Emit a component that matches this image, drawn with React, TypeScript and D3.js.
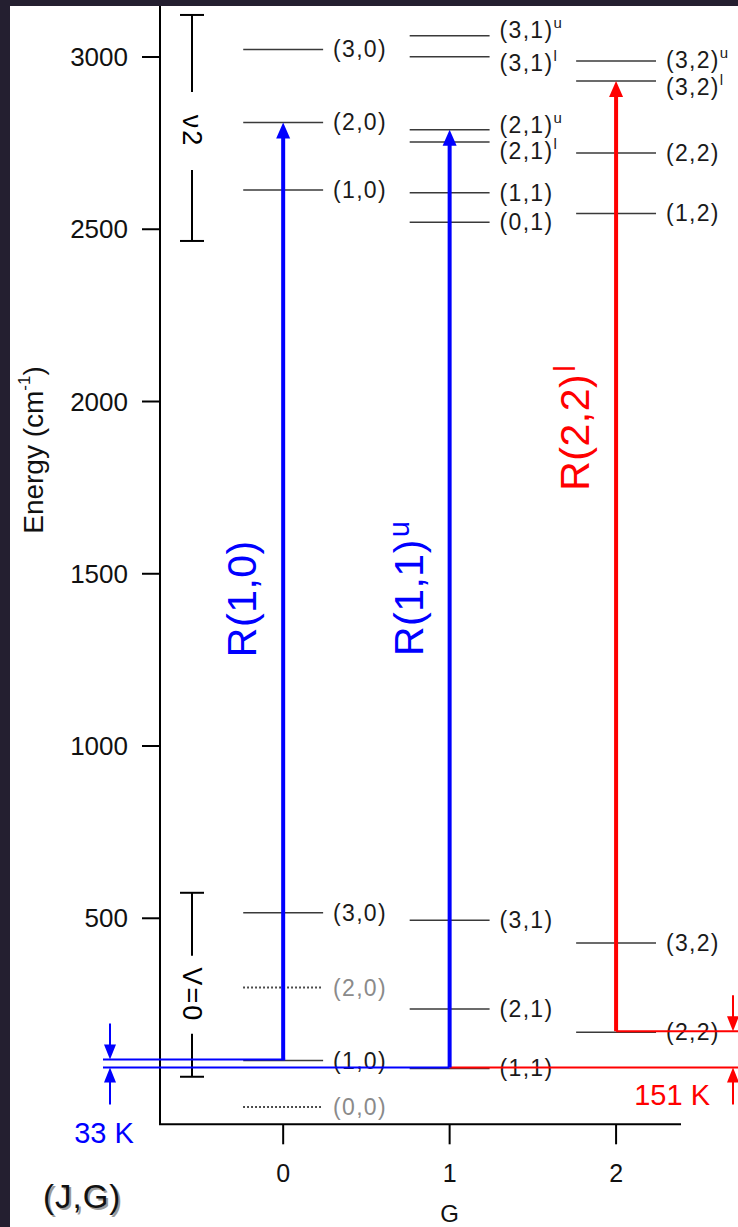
import React from "react";
import * as d3 from "d3";

const W = 738;
const H = 1227;

const E_TICKS = [500, 1000, 1500, 2000, 2500, 3000];
const G_TICKS = [0, 1, 2];

// upper (v2 = 1) levels: J, G, energy (cm-1), l-doubling component
const upperLevels = [
  { j: 3, g: 0, e: 3022, part: "" },
  { j: 2, g: 0, e: 2810, part: "" },
  { j: 1, g: 0, e: 2614, part: "" },
  { j: 3, g: 1, e: 3062, part: "u" },
  { j: 3, g: 1, e: 3001, part: "l" },
  { j: 2, g: 1, e: 2789, part: "u" },
  { j: 2, g: 1, e: 2753, part: "l" },
  { j: 1, g: 1, e: 2606, part: "" },
  { j: 0, g: 1, e: 2520, part: "" },
  { j: 3, g: 2, e: 2988, part: "u" },
  { j: 3, g: 2, e: 2930, part: "l" },
  { j: 2, g: 2, e: 2721, part: "" },
  { j: 1, g: 2, e: 2546, part: "" },
];

// ground (v = 0) levels
const groundLevels = [
  { j: 3, g: 0, e: 516, allowed: true },
  { j: 2, g: 0, e: 299, allowed: false },
  { j: 1, g: 0, e: 87, allowed: true },
  { j: 0, g: 0, e: -48, allowed: false },
  { j: 3, g: 1, e: 494, allowed: true },
  { j: 2, g: 1, e: 237, allowed: true },
  { j: 1, g: 1, e: 64, allowed: true },
  { j: 3, g: 2, e: 428, allowed: true },
  { j: 2, g: 2, e: 169, allowed: true },
];

const transitions = [
  { name: "R(1,0)", sup: "", g: 0, lower: 87, upper: 2810 },
  { name: "R(1,1)", sup: "u", g: 1, lower: 64, upper: 2789 },
  { name: "R(2,2)", sup: "l", g: 2, lower: 169, upper: 2930 },
];
const transitionLabelStartE = [1258, 1261, 1741];
const transitionColors = ["#0000ff", "#0000ff", "#ff0000"];

const brackets = [
  { label: "ν2", top: 3122, bottom: 2466, mid: 2785, gap: 78 },
  { label: "V=0", top: 574, bottom: 40, mid: 278, gap: 78 },
];

const tempLabels = [
  { text: "33 K", upperE: 87, lowerE: 64 },
  { text: "151 K", upperE: 169, lowerE: 64 },
];

const labelNudge: Record<string, number> = {
  "3,1u": -6,
  "3,1l": 6,
  "2,1u": -5,
  "2,1l": 9,
  "3,2u": -1,
  "3,2l": 6,
};

const FONT = "'Liberation Sans', Arial, Helvetica, sans-serif";

export default function App() {
  const x = d3.scaleLinear().domain([-0.74, 2.39]).range([160, 681]);
  const y = d3.scaleLinear().domain([-98, 3148]).range([1124.3, 6]);
  const half = 0.24;
  const lineColor = "#3a3a3a";

  const levelLabel = (
    key: string,
    j: number,
    g: number,
    e: number,
    part: string,
    color: string,
    nudge: number
  ) => {
    const lx = x(g + half) + 10;
    const ly = y(e) + nudge + 8;
    return (
      <text
        key={key}
        x={lx}
        y={ly}
        fontSize={23}
        letterSpacing={1.3}
        fill={color}
        fontFamily={FONT}
      >
        {`(${j},${g})`}
        {part ? (
          <tspan fontSize={15} dy={-10} dx={0}>
            {part}
          </tspan>
        ) : null}
      </text>
    );
  };

  const arrowHead = (xc: number, tipY: number, dir: number, hw: number, hl: number) =>
    `M${xc},${tipY} L${xc - hw},${tipY + dir * hl} L${xc + hw},${tipY + dir * hl} Z`;

  const blueLeft = 103;

  return (
    <svg
      width={W}
      height={H}
      style={{ position: "absolute", left: 0, top: 0, display: "block" }}
      fontFamily={FONT}
    >
      <rect x={0} y={0} width={W} height={H} fill="#241f30" />
      <rect x={10} y={6} width={W - 10} height={H - 6} fill="#ffffff" />

      {/* axes */}
      <line x1={x(-0.74)} x2={x(-0.74)} y1={6} y2={y(-98)} stroke="#000" strokeWidth={2} />
      <line x1={x(-0.74) - 1} x2={x(2.39)} y1={y(-98)} y2={y(-98)} stroke="#000" strokeWidth={2} />
      {E_TICKS.map((t) => (
        <g key={"yt" + t}>
          <line x1={x(-0.74) - 18} x2={x(-0.74)} y1={y(t)} y2={y(t)} stroke="#000" strokeWidth={2} />
          <text x={x(-0.74) - 32} y={y(t) + 9} textAnchor="end" fontSize={26} fill="#111">
            {t}
          </text>
        </g>
      ))}
      {G_TICKS.map((t) => (
        <g key={"xt" + t}>
          <line x1={x(t)} x2={x(t)} y1={y(-98)} y2={y(-98) + 20} stroke="#000" strokeWidth={2} />
          <text x={x(t)} y={1182} textAnchor="middle" fontSize={25} fill="#111">
            {t}
          </text>
        </g>
      ))}
      <text x={x(1)} y={1222} textAnchor="middle" fontSize={24} fill="#111">
        G
      </text>
      <text
        transform="translate(43,450) rotate(-90)"
        textAnchor="middle"
        fontSize={28}
        fill="#111"
      >
        Energy (cm
        <tspan fontSize={17} dy={-13}>
          -1
        </tspan>
        <tspan dy={13}>)</tspan>
      </text>

      {/* brackets */}
      {brackets.map((b) => {
        const bx = 192;
        const yt = y(b.top);
        const yb = y(b.bottom);
        const ym = y(b.mid);
        return (
          <g key={b.label}>
            <line x1={bx - 12} x2={bx + 12} y1={yt} y2={yt} stroke="#000" strokeWidth={2} />
            <line x1={bx - 12} x2={bx + 12} y1={yb} y2={yb} stroke="#000" strokeWidth={2} />
            <line x1={bx} x2={bx} y1={yt} y2={ym - b.gap / 2} stroke="#000" strokeWidth={2} />
            <line x1={bx} x2={bx} y1={ym + b.gap / 2} y2={yb} stroke="#000" strokeWidth={2} />
            <text
              transform={`translate(${bx},${ym}) rotate(90)`}
              textAnchor="middle"
              dominantBaseline="central"
              fontSize={27}
              letterSpacing={2}
              fill="#000"
            >
              {b.label}
            </text>
          </g>
        );
      })}

      {/* upper levels */}
      {upperLevels.map((l, i) => (
        <g key={"u" + i}>
          <line
            x1={x(l.g - half)}
            x2={x(l.g + half)}
            y1={y(l.e)}
            y2={y(l.e)}
            stroke={lineColor}
            strokeWidth={1.5}
          />
          {levelLabel(
            "ul" + i,
            l.j,
            l.g,
            l.e,
            l.part,
            "#1a1a1a",
            labelNudge[`${l.j},${l.g}${l.part}`] || 0
          )}
        </g>
      ))}

      {/* ground levels */}
      {groundLevels.map((l, i) => (
        <g key={"g" + i}>
          <line
            x1={x(l.g - half)}
            x2={x(l.g + half)}
            y1={y(l.e)}
            y2={y(l.e)}
            stroke={l.allowed ? lineColor : "#222"}
            strokeWidth={l.allowed ? 1.5 : 2}
            strokeDasharray={l.allowed ? undefined : "1.6,2.4"}
          />
          {levelLabel("gl" + i, l.j, l.g, l.e, "", l.allowed ? "#1a1a1a" : "#8a8a8a", 0)}
        </g>
      ))}

      {/* horizontal connector lines */}
      <line x1={blueLeft} x2={x(0) + 2} y1={y(87) - 1} y2={y(87) - 1} stroke="#0000ff" strokeWidth={2} />
      <line x1={blueLeft} x2={x(1)} y1={y(64) - 1} y2={y(64) - 1} stroke="#0000ff" strokeWidth={2} />
      <line x1={x(1)} x2={W} y1={y(64) - 1} y2={y(64) - 1} stroke="#ff0000" strokeWidth={2} />
      <line x1={x(2)} x2={W} y1={y(169) - 1} y2={y(169) - 1} stroke="#ff0000" strokeWidth={2} />

      {/* transitions */}
      {transitions.map((t, i) => {
        const xc = x(t.g);
        const col = transitionColors[i];
        const yTip = y(t.upper);
        const lx = xc - 27;
        const ly = y(transitionLabelStartE[i]);
        return (
          <g key={t.name}>
            <line x1={xc} x2={xc} y1={y(t.lower) - 1} y2={yTip + 12} stroke={col} strokeWidth={4} />
            <path d={arrowHead(xc, yTip, 1, 7, 16)} fill={col} />
            <text
              transform={`translate(${lx},${ly}) rotate(-90)`}
              fontSize={41}
              fill={col}
              letterSpacing={0.5}
            >
              {t.name}
              {t.sup ? (
                <tspan fontSize={29} dy={-14} dx={2}>
                  {t.sup}
                </tspan>
              ) : null}
            </text>
          </g>
        );
      })}

      {/* temperature difference markers */}
      {tempLabels.map((tl, i) => {
        const col = i === 0 ? "#0000ff" : "#ff0000";
        const ax = i === 0 ? 110 : 733;
        const yU = y(tl.upperE) - 1;
        const yL = y(tl.lowerE) - 1;
        return (
          <g key={tl.text}>
            <line x1={ax} x2={ax} y1={yU - 36} y2={yU - 12} stroke={col} strokeWidth={2} />
            <path d={arrowHead(ax, yU, -1, 6, 15)} fill={col} />
            <line x1={ax} x2={ax} y1={yL + 12} y2={yL + 37} stroke={col} strokeWidth={2} />
            <path d={arrowHead(ax, yL, 1, 6, 15)} fill={col} />
            {i === 0 ? (
              <text x={104} y={1143} textAnchor="middle" fontSize={29} fill={col}>
                {tl.text}
              </text>
            ) : (
              <text x={710} y={1105} textAnchor="end" fontSize={29} fill={col}>
                {tl.text}
              </text>
            )}
          </g>
        );
      })}

      {/* (J,G) */}
      <text x={45} y={1210} fontSize={33} fill="#9a9a9a" letterSpacing={1}>
        (J,G)
      </text>
      <text x={43} y={1208} fontSize={33} fill="#111" letterSpacing={1}>
        (J,G)
      </text>
    </svg>
  );
}
